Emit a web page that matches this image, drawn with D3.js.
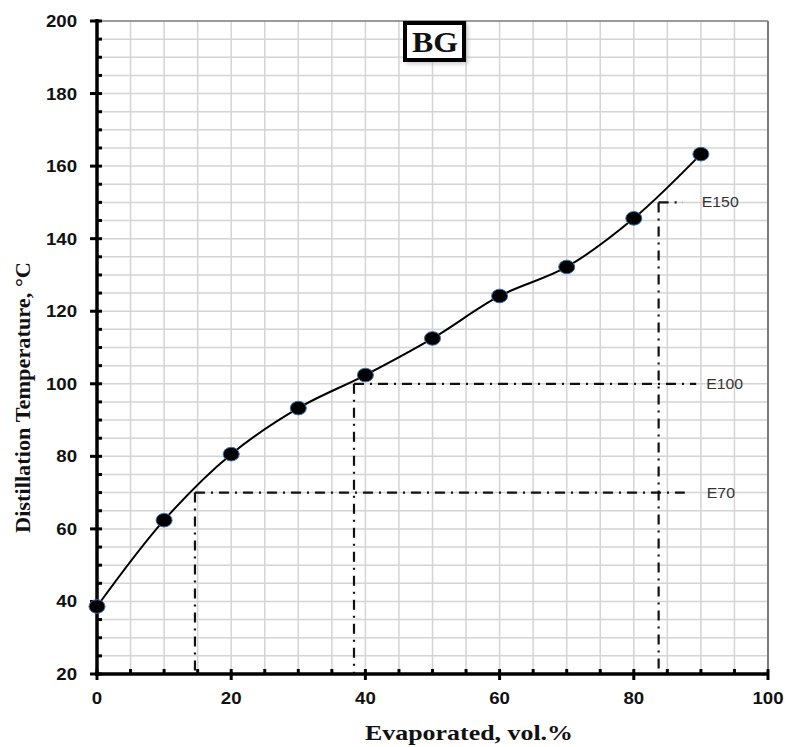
<!DOCTYPE html>
<html>
<head>
<meta charset="utf-8">
<script src="https://cdn.jsdelivr.net/npm/d3@7"></script>
<style>
  html, body { margin: 0; padding: 0; background: #fff; }
  svg { display: block; }
</style>
</head>
<body>
<svg id="chart" width="790" height="747"></svg>
<script>
// Distillation curve for the BG sample
const evaporated = [0, 10, 20, 30, 40, 50, 60, 70, 80, 90];
const temperature = [38.6, 62.4, 80.6, 93.3, 102.4, 112.5, 124.2, 132.2, 145.6, 163.3];

// Evaporated fraction read at 70, 100 and 150 °C
const refLabels = ["E70", "E100", "E150"];
const refTemps = [70, 100, 150];
const refVols = [14.6, 38.3, 83.7];
const refEnds = [87.6, 89.3, 87.3];

const xTicks = [0, 20, 40, 60, 80, 100];
const yTicks = [20, 40, 60, 80, 100, 120, 140, 160, 180, 200];
const chartTitle = "BG";
const xTitle = "Evaporated, vol.%";
const yTitle = "Distillation Temperature, °C";

const svg = d3.select("#chart");
const plotL = 97, plotR = 768, plotT = 21, plotB = 674;
const sans = "Liberation Sans, Arial, sans-serif";
const serif = "Liberation Serif, Times New Roman, serif";
const stretch = 1.13; // wide-set lettering

const x = d3.scaleLinear().domain([0, 100]).range([plotL, plotR]);
const y = d3.scaleLinear().domain([20, 200]).range([plotB, plotT]);

// grid every 5 units
const gridStep = d3.range(0, 101, 5);
const gridStepY = d3.range(20, 201, 5);
const grid = svg.append("g");
grid.selectAll("line.v").data(gridStep.filter(d => d > 0 && d < 100)).join("line")
  .attr("class", "v")
  .attr("x1", d => x(d)).attr("x2", d => x(d))
  .attr("y1", plotT).attr("y2", plotB)
  .attr("stroke", "#d4d4d4").attr("stroke-width", 1.5);
grid.selectAll("line.h").data(gridStepY.filter(d => d > 20 && d < 200)).join("line")
  .attr("class", "h")
  .attr("x1", plotL).attr("x2", plotR)
  .attr("y1", d => y(d)).attr("y2", d => y(d))
  .attr("stroke", "#d4d4d4").attr("stroke-width", 1.5);

// plot frame (top and right)
svg.append("line").attr("x1", plotL).attr("x2", plotR).attr("y1", plotT).attr("y2", plotT)
  .attr("stroke", "#7a7a7a").attr("stroke-width", 1.5);
svg.append("line").attr("x1", plotR).attr("x2", plotR).attr("y1", plotT).attr("y2", plotB)
  .attr("stroke", "#7a7a7a").attr("stroke-width", 2);

// reference lines (dash-dot)
const refG = svg.append("g").attr("stroke", "#111").attr("stroke-width", 2.2)
  .attr("stroke-dasharray", "10,6,2,6").attr("fill", "none");
refTemps.forEach((t, i) => {
  refG.append("line")
    .attr("x1", x(refVols[i])).attr("x2", x(refEnds[i]))
    .attr("y1", y(t)).attr("y2", y(t));
  refG.append("line")
    .attr("x1", x(refVols[i])).attr("x2", x(refVols[i]))
    .attr("y1", y(t)).attr("y2", y(20));
});
svg.append("g").selectAll("text").data(refLabels).join("text")
  .attr("transform", (d, i) =>
    `translate(${x(refEnds[i]) + [22, 10, 19][i]},${y(refTemps[i]) + 5}) scale(${stretch},1)`)
  .attr("font-family", sans)
  .attr("font-size", 14)
  .attr("fill", "#333")
  .text(d => d);

// axes
const axisG = svg.append("g");
axisG.append("line").attr("x1", plotL).attr("x2", plotL).attr("y1", plotT - 2).attr("y2", plotB + 2)
  .attr("stroke", "#000").attr("stroke-width", 3.5);
axisG.append("line").attr("x1", plotL - 2).attr("x2", plotR + 1).attr("y1", plotB).attr("y2", plotB)
  .attr("stroke", "#000").attr("stroke-width", 3.5);

// y ticks
axisG.selectAll("line.ymin").data(gridStepY.filter(d => d % 20 !== 0)).join("line")
  .attr("class", "ymin")
  .attr("x1", plotL).attr("x2", plotL + 5)
  .attr("y1", d => y(d)).attr("y2", d => y(d))
  .attr("stroke", "#000").attr("stroke-width", 3);
axisG.selectAll("line.ymaj").data(yTicks).join("line")
  .attr("class", "ymaj")
  .attr("x1", plotL - 7).attr("x2", plotL + 5)
  .attr("y1", d => y(d)).attr("y2", d => y(d))
  .attr("stroke", "#000").attr("stroke-width", 3);
// x ticks
axisG.selectAll("line.xmin").data(gridStep.filter(d => d % 20 !== 0)).join("line")
  .attr("class", "xmin")
  .attr("x1", d => x(d)).attr("x2", d => x(d))
  .attr("y1", plotB - 5).attr("y2", plotB)
  .attr("stroke", "#000").attr("stroke-width", 3);
axisG.selectAll("line.xmaj").data(xTicks).join("line")
  .attr("class", "xmaj")
  .attr("x1", d => x(d)).attr("x2", d => x(d))
  .attr("y1", plotB - 5).attr("y2", plotB + 6)
  .attr("stroke", "#000").attr("stroke-width", 3);

// tick labels
svg.append("g").selectAll("text").data(yTicks).join("text")
  .attr("transform", d => `translate(${plotL - 20},${y(d) + 6}) scale(${stretch},1)`)
  .attr("text-anchor", "end")
  .attr("font-family", sans)
  .attr("font-weight", "bold").attr("font-size", 16.5)
  .attr("fill", "#111")
  .text(d => d);
svg.append("g").selectAll("text").data(xTicks).join("text")
  .attr("transform", d => `translate(${x(d)},${plotB + 30}) scale(${stretch},1)`)
  .attr("text-anchor", "middle")
  .attr("font-family", sans)
  .attr("font-weight", "bold").attr("font-size", 16.5)
  .attr("fill", "#111")
  .text(d => d);

// axis titles
svg.append("text")
  .attr("x", 469).attr("y", 740)
  .attr("text-anchor", "middle")
  .attr("font-family", serif)
  .attr("font-weight", "bold").attr("font-size", 21.5)
  .attr("textLength", 208).attr("lengthAdjust", "spacingAndGlyphs")
  .attr("fill", "#111")
  .text(xTitle);
svg.append("text")
  .attr("transform", "translate(30,397.5) rotate(-90)")
  .attr("text-anchor", "middle")
  .attr("font-family", serif)
  .attr("font-weight", "bold").attr("font-size", 22)
  .attr("textLength", 271).attr("lengthAdjust", "spacingAndGlyphs")
  .attr("fill", "#111")
  .text(yTitle);

// distillation curve
const pts = evaporated.map((v, i) => [v, temperature[i]]);
const line = d3.line().x(d => x(d[0])).y(d => y(d[1])).curve(d3.curveCatmullRom.alpha(0.5));
svg.append("path").datum(pts)
  .attr("d", line)
  .attr("fill", "none").attr("stroke", "#000").attr("stroke-width", 2);

svg.append("g").selectAll("ellipse").data(pts).join("ellipse")
  .attr("cx", d => x(d[0])).attr("cy", d => y(d[1]))
  .attr("rx", 8).attr("ry", 6.8)
  .attr("fill", "#000").attr("stroke", "#3a6fa8").attr("stroke-width", 1);

// title box
const tb = svg.append("g");
tb.append("rect").attr("x", 406).attr("y", 24).attr("width", 62).attr("height", 40)
  .attr("fill", "#999").attr("opacity", 0.5).attr("filter", "blur(2px)");
tb.append("rect").attr("x", 405).attr("y", 23).attr("width", 59).attr("height", 37)
  .attr("fill", "#fff").attr("stroke", "#000").attr("stroke-width", 4);
tb.append("text")
  .attr("transform", `translate(435,52) scale(1.1,1)`)
  .attr("text-anchor", "middle")
  .attr("font-family", serif)
  .attr("font-weight", "bold").attr("font-size", 29)
  .attr("fill", "#111")
  .text(chartTitle);
</script>
</body>
</html>
